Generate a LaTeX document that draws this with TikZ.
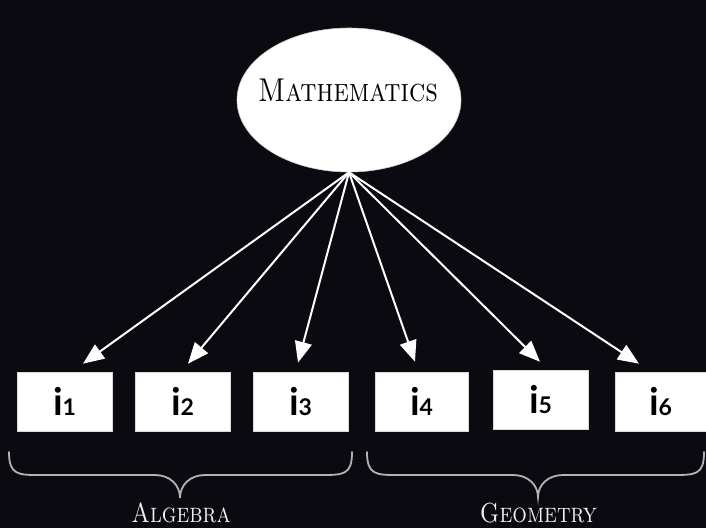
\documentclass[tikz,border=0pt]{standalone}
\usepackage{graphicx}
\usepackage{fontspec}
\newfontfamily\boxfont{Lato}
\usetikzlibrary{arrows.meta,shapes.geometric}
\definecolor{bg}{HTML}{0A0A10}
\definecolor{lbl}{HTML}{EEF2EE}
\definecolor{brace}{HTML}{B4B4B4}
\tikzset{
  itembox/.style={rectangle, fill=white, draw=white!85!black, line width=0.6pt, minimum width=95pt, minimum height=59pt, inner sep=0pt},
  arr/.style={draw=white, line width=2pt, -{Triangle[length=21pt,width=17pt]}},
  bracepath/.style={draw=brace, line width=1.8pt, line cap=round},
  grouplabel/.style={text=lbl, font=\fontsize{23}{26}\selectfont\scshape, inner sep=0pt, anchor=base}
}
\newcommand{\itm}[1]{{\boxfont\bfseries\fontsize{38}{40}\selectfont i\fontsize{23}{25}\selectfont #1}}
\newcommand{\tallsc}[1]{\scalebox{1}[1.2]{#1}}
\begin{document}
\begin{tikzpicture}[x=1pt,y=-1pt]
\fill[bg] (0,0) rectangle (706,528);
\useasboundingbox (0,0) rectangle (706,528);
\node[ellipse, fill=white, draw=white!80!black, line width=0.6pt, minimum width=224pt, minimum height=144pt, inner sep=0pt] (M) at (349,100) {};
\node[font=\fontsize{27.5}{30}\selectfont\scshape, inner sep=0pt, anchor=base] (Mt) at (348,101) {\tallsc{Mathematics}};
\node[itembox] (b1) at (64.5,401.5) {\itm{1}};
\node[itembox] (b2) at (182.5,401.5) {\itm{2}};
\node[itembox] (b3) at (300.5,401.5) {\itm{3}};
\node[itembox, minimum width=93pt] (b4) at (421.5,401.5) {\itm{4}};
\node[itembox] (b5) at (540.5,399.5) {\itm{5}};
\node[itembox, minimum width=91pt] (b6) at (660.5,401.5) {\itm{6}};
\draw[arr] (M.south) -- ([xshift=18.5pt,yshift=8pt]b1.north);
\draw[arr] (M.south) -- ([xshift=5.5pt,yshift=8pt]b2.north);
\draw[arr] (M.south) -- ([xshift=-2.5pt,yshift=9pt]b3.north);
\draw[arr] (M.south) -- ([xshift=-6.5pt,yshift=10pt]b4.north);
\draw[arr] (M.south) -- ([xshift=-0.5pt,yshift=8pt]b5.north);
\draw[arr] (M.south) -- ([xshift=-21.5pt,yshift=8pt]b6.north);
\coordinate (la) at (9,452);
\coordinate (lt) at (180,498);
\coordinate (lb) at (352,452);
\coordinate (ra) at (367,452);
\coordinate (rt) at (538,497);
\coordinate (rb) at (704,452);
\draw[bracepath] (la) .. controls (9,475) and (18,475) .. (40,475) -- (155,475) .. controls (170,475) and (180,485) .. (lt) .. controls (180,485) and (190,475) .. (205,475) -- (320,475) .. controls (344,475) and (352,475) .. (lb);
\draw[bracepath] (ra) .. controls (367,475) and (376,475) .. (398,475) -- (513,475) .. controls (528,475) and (538,485) .. (rt) .. controls (538,485) and (548,475) .. (563,475) -- (672,475) .. controls (696,475) and (704,475) .. (rb);
\node[grouplabel] (ga) at (181,522) {\tallsc{Algebra}};
\node[grouplabel] (gg) at (538.5,522) {\tallsc{Geometry}};
\end{tikzpicture}
\end{document}
